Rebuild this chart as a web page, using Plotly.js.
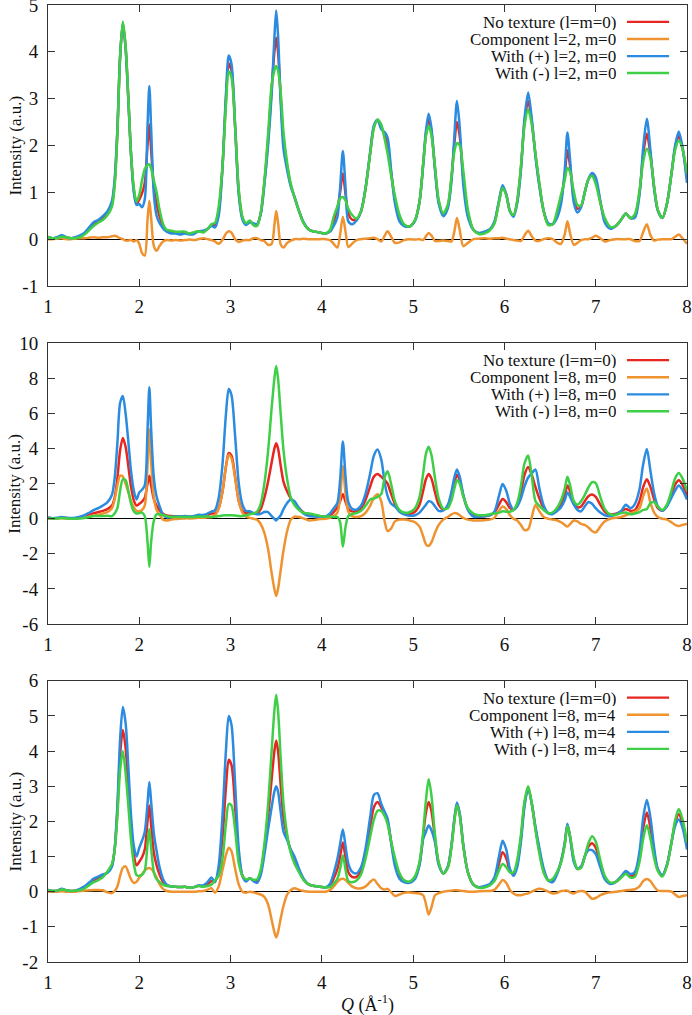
<!DOCTYPE html>
<html>
<head>
<meta charset="utf-8">
<script src="https://cdn.plot.ly/plotly-3.0.1.min.js"></script>
<style>html,body{margin:0;padding:0;background:#fff;}#chart{width:692px;height:1015px;}</style>
</head>
<body>
<div id="chart"></div>
<script>
// Q values (Å^-1)
const Q = [
 1.00,1.05,1.10,1.15,1.20,1.25,1.30,1.35,1.40,1.45,1.50,1.55,1.60,1.65,1.70,
 1.73,1.76,1.79,1.82,1.85,1.88,1.91,1.94,1.97,2.00,2.03,2.06,2.09,
 2.11,2.13,2.16,2.19,2.22,2.26,2.30,2.35,2.40,2.45,2.50,2.55,2.60,2.65,2.70,2.75,
 2.79,2.83,2.87,2.91,2.95,2.98,3.01,3.05,3.09,3.13,3.17,3.21,3.25,3.29,3.33,3.37,3.41,3.45,
 3.48,3.50,3.52,3.55,3.58,3.62,3.66,3.70,3.75,3.80,3.86,3.92,3.98,4.04,4.09,4.13,4.17,
 4.20,4.23,4.26,4.29,4.33,4.38,4.43,4.48,4.53,4.57,4.61,4.65,4.69,4.72,4.76,4.80,4.85,4.90,4.96,
 5.02,5.07,5.11,5.14,5.17,5.20,5.24,5.28,5.33,5.38,5.42,5.45,5.48,5.51,5.55,5.60,5.66,5.72,5.78,5.84,
 5.89,5.94,5.98,6.02,6.06,6.10,6.14,6.18,6.22,6.26,6.30,6.34,6.38,6.43,6.48,6.53,6.58,6.62,6.66,
 6.69,6.72,6.76,6.80,6.84,6.88,6.92,6.96,7.00,7.05,7.10,7.16,7.22,7.28,7.33,7.38,7.43,7.48,
 7.52,7.56,7.60,7.64,7.68,7.73,7.78,7.83,7.87,7.91,7.95,8.00
];

// No texture (l=m=0) — same in all three panels
const noTexture = [
 0.05,0.02,0.03,0.07,0.04,0.02,0.03,0.06,0.12,0.22,0.32,0.38,0.45,0.55,0.75,
 1.2,2.3,3.9,4.6,4.1,3.0,1.8,1.05,0.75,0.85,0.98,1.2,2.0,
 2.45,1.9,1.1,0.75,0.5,0.28,0.18,0.15,0.14,0.13,0.14,0.11,0.13,0.17,0.16,0.22,
 0.3,0.3,0.6,1.5,3.0,3.75,3.6,2.4,1.0,0.45,0.32,0.38,0.32,0.3,0.55,1.2,2.1,3.2,
 4.0,4.3,4.0,3.0,2.1,1.55,1.15,0.9,0.6,0.35,0.2,0.16,0.14,0.12,0.18,0.38,0.65,
 1.0,1.4,0.95,0.55,0.42,0.42,0.6,1.1,1.85,2.4,2.55,2.4,2.2,2.0,1.4,0.85,0.45,0.3,0.27,
 0.4,0.8,1.6,2.25,2.55,2.3,1.5,0.8,0.52,0.7,1.3,2.0,2.5,2.2,1.3,0.55,0.2,0.12,0.14,0.2,
 0.35,0.8,1.12,0.95,0.6,0.5,0.8,1.5,2.5,2.95,2.5,1.8,1.2,0.6,0.32,0.32,0.55,0.85,1.35,
 1.9,1.55,0.9,0.65,0.7,1.0,1.28,1.38,1.25,0.8,0.4,0.24,0.28,0.42,0.55,0.45,0.5,1.0,
 1.8,2.25,1.8,1.1,0.62,0.45,0.75,1.4,1.95,2.2,1.95,1.3
];

// Panel 1: l=2, m=0
const comp_l2m0 = [
 0,0,0.01,0.02,0,0,0.01,0.02,0.02,0.03,0.04,0.03,0.04,0.04,0.06,
 0.07,0.05,0.02,0,-0.03,-0.03,-0.02,-0.05,-0.02,-0.1,-0.3,-0.35,0.4,
 0.82,0.45,-0.15,-0.25,-0.15,-0.05,-0.02,-0.03,-0.02,-0.03,-0.02,-0.01,-0.02,0,0.02,0,
 -0.02,-0.05,-0.1,-0.02,0.12,0.17,0.14,0,-0.06,-0.03,-0.02,-0.02,0.02,0.02,-0.02,-0.04,-0.12,-0.1,
 0.3,0.6,0.35,-0.12,-0.18,-0.08,-0.03,0,0,0.01,0,0,0,0,-0.02,-0.1,-0.18,
 0.1,0.48,0.15,-0.17,-0.1,-0.02,0,0.01,0.02,0.03,0,-0.05,0.08,0.17,0.05,-0.08,-0.07,-0.02,0,
 -0.01,0,-0.02,0.06,0.13,0.08,-0.04,-0.04,-0.03,-0.04,-0.05,0.15,0.45,0.2,-0.15,-0.08,0,0.01,0.02,0.01,
 0.02,0.02,0.03,0.01,0,-0.02,-0.03,-0.04,0.08,0.18,0.06,-0.03,-0.04,0,0.02,0,-0.08,-0.1,0.1,
 0.38,0.12,-0.12,-0.08,-0.02,0,0,0.03,0.07,0.02,-0.05,-0.02,0,0,0,0,-0.04,-0.04,
 0.15,0.32,0.08,-0.03,-0.01,0,0,0,0.05,0.1,0.02,-0.1
];
const plus_l2m0 = [
 0.05,0.02,0.04,0.09,0.04,0.02,0.04,0.08,0.14,0.25,0.36,0.41,0.49,0.59,0.81,
 1.27,2.35,3.92,4.62,4.07,2.97,1.78,1.0,0.73,0.75,0.68,0.85,2.4,
 3.27,2.35,0.95,0.5,0.35,0.23,0.16,0.12,0.12,0.10,0.12,0.10,0.11,0.17,0.18,0.22,
 0.28,0.25,0.5,1.48,3.12,3.92,3.74,2.4,0.94,0.42,0.3,0.36,0.34,0.32,0.53,1.16,1.98,3.1,
 4.3,4.88,4.35,2.88,1.92,1.47,1.12,0.9,0.6,0.36,0.2,0.16,0.14,0.12,0.16,0.28,0.47,
 1.1,1.88,1.1,0.38,0.32,0.4,0.6,1.11,1.87,2.43,2.55,2.35,2.28,2.17,1.45,0.77,0.38,0.28,0.27,
 0.39,0.8,1.58,2.31,2.68,2.38,1.46,0.76,0.49,0.66,1.25,2.15,2.95,2.4,1.15,0.47,0.2,0.13,0.16,0.21,
 0.37,0.82,1.15,0.96,0.6,0.48,0.77,1.46,2.58,3.13,2.56,1.77,1.16,0.6,0.34,0.32,0.47,0.75,1.45,
 2.28,1.67,0.78,0.57,0.68,1.0,1.28,1.41,1.32,0.82,0.35,0.22,0.28,0.42,0.55,0.45,0.46,0.96,
 1.95,2.57,1.88,1.07,0.61,0.45,0.75,1.4,2.0,2.3,1.97,1.2
];
const minus_l2m0 = [
 0.05,0.02,0.02,0.05,0.04,0.02,0.02,0.04,0.10,0.19,0.28,0.35,0.41,0.51,0.69,
 1.13,2.25,3.88,4.65,4.13,3.03,1.82,1.1,0.8,0.95,1.25,1.5,1.58,
 1.6,1.5,1.25,1.0,0.65,0.33,0.2,0.18,0.16,0.16,0.16,0.12,0.15,0.17,0.14,0.22,
 0.32,0.35,0.7,1.52,2.88,3.58,3.46,2.4,1.06,0.48,0.34,0.40,0.30,0.28,0.57,1.24,2.22,3.3,
 3.6,3.7,3.6,3.12,2.28,1.63,1.18,0.9,0.6,0.34,0.2,0.16,0.14,0.12,0.2,0.48,0.7,
 0.87,0.9,0.82,0.65,0.52,0.44,0.6,1.09,1.83,2.37,2.55,2.45,2.12,1.83,1.35,0.93,0.52,0.32,0.27,
 0.41,0.8,1.62,2.19,2.42,2.22,1.54,0.84,0.55,0.74,1.35,1.85,2.05,2.0,1.45,0.63,0.2,0.11,0.12,0.19,
 0.33,0.78,1.09,0.94,0.6,0.52,0.83,1.54,2.42,2.77,2.44,1.83,1.24,0.6,0.30,0.32,0.63,0.95,1.25,
 1.52,1.43,1.02,0.73,0.72,1.0,1.28,1.35,1.18,0.78,0.45,0.26,0.28,0.42,0.55,0.45,0.54,1.04,
 1.65,1.93,1.72,1.13,0.63,0.45,0.75,1.4,1.9,2.1,1.93,1.4
];

// Panel 2: l=8, m=0
const comp_l8m0 = [
 0.02,0.01,0.02,0.03,0.02,0.02,0.03,0.05,0.08,0.12,0.17,0.22,0.3,0.38,0.6,
 1.1,1.9,2.45,2.4,2.0,1.5,1.0,0.65,0.45,0.42,0.5,0.75,3.0,
 5.1,3.2,1.2,0.5,0.25,-0.05,-0.1,-0.05,-0.02,0,0.02,0.02,0.03,0.05,0.05,0.08,
 0.1,0.2,0.6,1.5,3.0,3.65,3.45,2.3,1.0,0.35,0.12,0.05,0.0,-0.05,-0.3,-0.8,-1.7,-3.1,
 -4.0,-4.4,-4.0,-2.9,-1.8,-0.7,-0.05,0.12,0.1,0.02,-0.1,-0.07,-0.02,0,0.05,0.15,0.35,
 1.2,3.0,1.4,0.4,0.15,0.1,0.15,0.35,0.75,1.2,1.4,1.0,-0.2,-0.7,-0.55,-0.15,-0.05,-0.05,-0.1,
 -0.2,-0.45,-1.0,-1.45,-1.55,-1.35,-0.8,-0.35,-0.05,0.1,0.25,0.32,0.3,0.2,0.05,-0.05,-0.1,-0.1,-0.08,-0.05,
 0.05,0.45,0.7,0.55,0.2,0.0,-0.1,-0.35,-0.65,-0.6,0.1,0.78,0.45,0.1,0.0,-0.05,-0.1,-0.2,-0.35,
 -0.45,-0.3,-0.1,-0.15,-0.3,-0.35,-0.5,-0.7,-0.78,-0.45,-0.15,0.0,0.05,0.1,0.2,0.3,0.4,0.6,
 1.3,1.72,0.9,0.35,0.1,0.0,-0.05,-0.2,-0.35,-0.42,-0.35,-0.3
];
const plus_l8m0 = [
 0.07,0.03,0.05,0.1,0.06,0.04,0.06,0.11,0.2,0.34,0.49,0.6,0.75,0.93,1.35,
 2.3,4.3,6.6,7.0,6.0,4.4,2.7,1.6,1.1,1.5,1.65,1.9,5.0,
 7.5,5.1,2.3,1.25,0.75,0.23,0.08,0.1,0.12,0.13,0.16,0.13,0.16,0.22,0.21,0.3,
 0.4,0.5,1.2,3.0,6.0,7.4,7.05,4.7,2.0,0.8,0.44,0.43,0.32,0.25,0.28,0.38,0.38,0.15,
 0.0,-0.1,0.02,0.2,0.55,0.9,1.1,1.0,0.6,0.3,0.15,0.12,0.12,0.12,0.3,0.6,0.9,
 2.2,4.4,2.35,0.95,0.57,0.52,0.75,1.45,2.6,3.6,3.95,3.4,2.0,1.3,0.85,0.7,0.4,0.25,0.17,
 0.2,0.35,0.6,0.8,1.0,0.95,0.7,0.45,0.47,0.8,1.55,2.32,2.8,2.4,1.35,0.5,0.12,0.12,0.14,0.2,
 0.4,1.3,1.98,1.6,0.85,0.5,0.7,1.15,1.85,2.35,2.6,2.8,1.8,0.75,0.32,0.27,0.45,0.65,1.05,
 1.5,1.25,0.8,0.5,0.42,0.7,0.95,0.85,0.6,0.35,0.2,0.15,0.25,0.45,0.8,0.6,0.85,1.7,
 3.1,3.97,2.7,1.45,0.72,0.45,0.7,1.2,1.6,1.9,1.65,1.1
];
const minus_l8m0 = [
 0.03,0.01,0.01,0.04,0.02,0.0,0.0,0.01,0.04,0.1,0.15,0.16,0.15,0.17,0.15,
 0.3,0.6,1.6,2.25,2.2,1.6,0.85,0.42,0.3,0.32,0.35,0.15,-1.3,
 -2.75,-1.3,-0.1,0.25,0.25,0.2,0.15,0.1,0.1,0.1,0.1,0.1,0.1,0.12,0.11,0.14,
 0.1,0.12,0.15,0.18,0.2,0.2,0.2,0.18,0.15,0.15,0.2,0.25,0.3,0.4,0.85,2.0,3.8,6.3,
 8.0,8.7,8.0,5.9,3.9,2.25,1.2,0.78,0.5,0.33,0.3,0.23,0.16,0.12,0.13,0.1,0.1,
 -0.2,-1.6,-0.45,0.15,0.27,0.32,0.45,0.75,1.1,1.15,1.25,1.4,2.4,2.7,1.95,1.0,0.5,0.35,0.37,
 0.6,1.25,2.6,3.7,4.1,3.65,2.3,1.15,0.57,0.6,1.05,1.68,2.2,2.0,1.25,0.6,0.3,0.2,0.2,0.25,
 0.3,0.35,0.42,0.4,0.4,0.5,0.9,1.85,3.15,3.6,2.4,1.0,0.75,0.5,0.32,0.37,0.65,1.05,1.7,
 2.4,1.9,1.0,0.8,1.0,1.35,1.78,2.08,2.03,1.25,0.55,0.24,0.23,0.32,0.35,0.25,0.3,0.38,
 0.5,0.55,0.9,0.95,0.7,0.5,0.8,1.6,2.3,2.6,2.3,1.6
];

// Panel 3: l=8, m=4
const comp_l8m4 = [
 0,0,0,0.01,0,0,0,0.02,0.03,0.04,0.05,0.05,0.04,-0.02,-0.04,
 0.02,0.15,0.45,0.68,0.72,0.55,0.35,0.25,0.28,0.4,0.5,0.6,0.66,
 0.67,0.65,0.55,0.4,0.22,0.08,0.02,0,0,0,0,0,0,0.01,0.02,0.06,
 0.1,-0.03,0.15,0.6,1.05,1.25,1.15,0.65,0.2,0,-0.03,0,-0.02,-0.05,-0.08,-0.15,-0.35,-0.8,
 -1.15,-1.3,-1.15,-0.75,-0.4,-0.08,0.05,0.1,0.05,0.02,0,0,0,0,0.05,0.15,0.28,
 0.35,0.37,0.33,0.25,0.15,0.1,0.1,0.15,0.28,0.35,0.22,0.1,0.06,0.08,-0.02,-0.12,-0.08,-0.03,-0.02,
 -0.04,-0.05,-0.1,-0.35,-0.65,-0.45,-0.1,-0.04,0,0.02,0.03,0.04,0.04,0.03,0.02,0,0,0.01,0.02,0.02,
 0.05,0.2,0.33,0.25,0.05,-0.05,-0.1,-0.1,-0.07,-0.05,0,0.05,0.08,0.06,0,-0.05,-0.03,0.02,0.03,
 0.03,-0.02,-0.05,0,0.02,0,-0.1,-0.2,-0.18,-0.1,-0.05,-0.02,0,0.02,0.04,0.05,0.07,0.15,
 0.3,0.36,0.3,0.15,0.03,0.02,0.02,0,-0.08,-0.15,-0.12,-0.1
];
const plus_l8m4 = [
 0.05,0.02,0.03,0.08,0.04,0.02,0.03,0.08,0.15,0.26,0.37,0.43,0.49,0.53,0.71,
 1.22,2.45,4.35,5.25,4.8,3.55,2.15,1.3,1.0,1.25,1.45,1.7,2.5,
 3.12,2.55,1.65,1.15,0.72,0.36,0.2,0.15,0.14,0.13,0.14,0.11,0.13,0.18,0.18,0.28,
 0.4,0.27,0.75,2.1,4.05,5.0,4.75,3.05,1.2,0.45,0.29,0.38,0.3,0.25,0.47,1.05,1.75,2.4,
 2.85,3.0,2.85,2.25,1.7,1.47,1.2,1.0,0.65,0.37,0.2,0.16,0.14,0.12,0.23,0.53,0.93,
 1.35,1.77,1.28,0.8,0.57,0.52,0.7,1.25,2.13,2.75,2.8,2.5,2.26,2.08,1.38,0.73,0.37,0.27,0.25,
 0.36,0.75,1.5,1.7,1.88,1.75,1.4,0.76,0.52,0.72,1.33,2.04,2.54,2.23,1.32,0.55,0.2,0.13,0.16,0.22,
 0.4,1.0,1.45,1.2,0.65,0.45,0.7,1.4,2.43,2.95,2.5,1.85,1.28,0.66,0.32,0.27,0.52,0.87,1.38,
 1.93,1.53,0.85,0.65,0.72,1.0,1.18,1.18,1.07,0.7,0.35,0.22,0.28,0.44,0.59,0.5,0.57,1.15,
 2.1,2.61,2.1,1.25,0.65,0.47,0.77,1.4,1.87,2.05,1.83,1.2
];
const minus_l8m4 = [
 0.05,0.02,0.03,0.06,0.04,0.02,0.03,0.04,0.09,0.18,0.27,0.33,0.41,0.57,0.79,
 1.18,2.15,3.45,4.0,3.38,2.45,1.45,0.8,0.47,0.45,0.48,0.6,1.34,
 1.78,1.25,0.55,0.35,0.28,0.2,0.16,0.15,0.14,0.13,0.14,0.11,0.13,0.16,0.14,0.16,
 0.2,0.33,0.45,0.9,1.95,2.5,2.45,1.75,0.8,0.45,0.35,0.38,0.34,0.35,0.63,1.35,2.45,4.0,
 5.15,5.6,5.15,3.75,2.5,1.63,1.1,0.8,0.55,0.33,0.2,0.16,0.14,0.12,0.13,0.23,0.37,
 0.65,1.03,0.62,0.3,0.27,0.32,0.5,0.95,1.57,2.05,2.3,2.3,2.14,1.92,1.42,0.97,0.53,0.33,0.29,
 0.44,0.85,1.7,2.6,3.2,2.75,1.6,0.84,0.52,0.68,1.27,1.96,2.46,2.17,1.28,0.55,0.2,0.11,0.12,0.18,
 0.3,0.6,0.79,0.7,0.55,0.55,0.9,1.6,2.57,3.0,2.5,1.75,1.12,0.54,0.32,0.37,0.58,0.83,1.32,
 1.87,1.57,0.95,0.65,0.68,1.0,1.38,1.58,1.43,0.9,0.45,0.26,0.28,0.4,0.51,0.4,0.43,0.85,
 1.5,1.89,1.5,0.95,0.59,0.43,0.73,1.4,2.03,2.35,2.07,1.4
];

// Legend labels
const labels1 = ["No texture (l=m=0)", "Component l=2, m=0", "With (+) l=2, m=0", "With (-) l=2, m=0"];
const labels2 = ["No texture (l=m=0)", "Component l=8, m=0", "With (+) l=8, m=0", "With (-) l=8, m=0"];
const labels3 = ["No texture (l=m=0)", "Component l=8, m=4", "With (+) l=8, m=4", "With (-) l=8, m=4"];

// Ticks and axis titles
const xTicks = [1,2,3,4,5,6,7,8];
const yTicks1 = [-1,0,1,2,3,4,5];
const yTicks2 = [-6,-4,-2,0,2,4,6,8,10];
const yTicks3 = [-2,-1,0,1,2,3,4,5,6];
const yTitle = "Intensity (a.u.)";
const xTitle = "<i>Q</i> (Å<sup>-1</sup>)";

const colors = ["#e6261f", "#ef9330", "#2a8be0", "#3fcf47"];
const FONT = "'Liberation Serif', 'Times New Roman', 'DejaVu Serif', serif";

const panels = [
  {series: [noTexture, comp_l2m0, plus_l2m0, minus_l2m0], labels: labels1, ticks: yTicks1, range: [-1,5], x: "x", y: "y"},
  {series: [noTexture, comp_l8m0, plus_l8m0, minus_l8m0], labels: labels2, ticks: yTicks2, range: [-6,10], x: "x2", y: "y2"},
  {series: [noTexture, comp_l8m4, plus_l8m4, minus_l8m4], labels: labels3, ticks: yTicks3, range: [-2,6], x: "x3", y: "y3"}
];

const traces = [];
panels.forEach(p => {
  p.series.forEach((s, i) => {
    traces.push({x: Q, y: s, xaxis: p.x, yaxis: p.y, type: "scatter", mode: "lines",
      name: p.labels[i], showlegend: false, hoverinfo: "skip",
      line: {color: colors[i], width: 2.5, shape: "spline", smoothing: 0.8}});
  });
});

const domains = [[0.7064, 1.0], [0.3532, 0.6465], [0.0, 0.2939]];

function xAxis(anchor) {
  return {domain: [0, 1], range: [1, 8], anchor: anchor, tickmode: "array", tickvals: xTicks,
    ticktext: xTicks.map(String), ticks: "inside", ticklen: 7, tickcolor: "#333", showline: true,
    mirror: "ticks", linecolor: "#333", linewidth: 1, showgrid: false, zeroline: false,
    ticklabelstandoff: 3, ticklabeloverflow: "allow",
    tickfont: {family: FONT, size: 19, color: "#111"}};
}
function yAxis(p, idx) {
  return {domain: domains[idx], range: p.range, anchor: p.x, tickmode: "array", tickvals: p.ticks,
    ticktext: p.ticks.map(v => String(v)), ticks: "inside", ticklen: 7, tickcolor: "#333",
    showline: true, mirror: "ticks", linecolor: "#333", linewidth: 1, showgrid: false,
    zeroline: true, zerolinecolor: "#000", zerolinewidth: 1, ticklabelstandoff: 5,
    ticklabeloverflow: "allow",
    tickfont: {family: FONT, size: 19, color: "#111"}};
}

const layout = {
  width: 692, height: 1015, paper_bgcolor: "#fff", plot_bgcolor: "#fff",
  margin: {l: 48, r: 5, t: 5, b: 53}, showlegend: false,
  font: {family: FONT, color: "#111"},
  xaxis: xAxis("y"), xaxis2: xAxis("y2"), xaxis3: xAxis("y3"),
  yaxis: yAxis(panels[0], 0), yaxis2: yAxis(panels[1], 1), yaxis3: yAxis(panels[2], 2),
  shapes: [], annotations: []
};

// x-axis title under bottom panel
layout.annotations.push({text: xTitle, xref: "paper", yref: "paper", x: 0.5, y: -0.0442,
  xanchor: "center", yanchor: "middle", showarrow: false,
  font: {family: FONT, size: 18, color: "#111"}});

const rowOff = [0.940, 0.879, 0.818, 0.758];
panels.forEach((p, k) => {
  const yref = (k === 0 ? "y" : "y" + (k + 1)) + " domain";
  // y-axis title
  layout.annotations.push({text: yTitle, xref: "paper", yref: yref, x: -0.0516, y: 0.5,
    xanchor: "center", yanchor: "middle", textangle: -90, showarrow: false,
    font: {family: FONT, size: 17, color: "#111"}});
  p.labels.forEach((lab, i) => {
    layout.annotations.push({text: lab, xref: "paper", yref: yref, x: 0.892, y: rowOff[i],
      xanchor: "right", yanchor: "middle", showarrow: false, height: 16, valign: "middle",
      font: {family: FONT, size: 17, color: "#111"}});
    layout.shapes.push({type: "line", xref: "paper", yref: yref, x0: 0.906, x1: 0.972,
      y0: rowOff[i], y1: rowOff[i], line: {color: colors[i], width: 2.3}});
  });
});

Plotly.newPlot("chart", traces, layout, {staticPlot: true, displayModeBar: false});
</script>
</body>
</html>
